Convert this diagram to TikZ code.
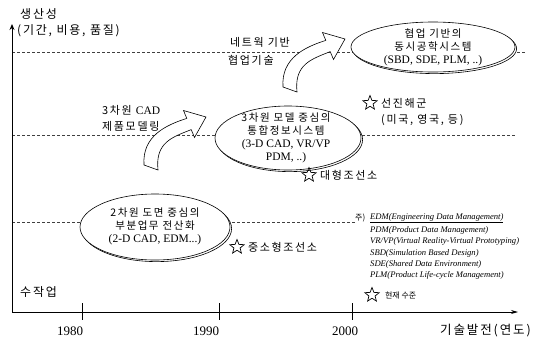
\documentclass[tikz,border=0pt]{standalone}
\usepackage{fontspec}
\setmainfont{Liberation Serif}
\newfontfamily\kr{Noto Sans CJK KR}[LetterSpace=15]
\newfontfamily\krs{Noto Sans CJK KR}
\usetikzlibrary{arrows.meta, shapes.geometric}

\tikzset{
  guide/.style={densely dashed, line width=0.4pt, black!75},
  rim/.style={draw, fill=white, line width=0.6pt},
  steptext/.style={inner sep=0pt, align=center, font=\kr\fontsize{10.5}{13}\selectfont},
  starmark/.style={star, star points=5, star point ratio=2.3, draw, minimum size=15pt,
    inner sep=0pt, line width=0.7pt},
  lbl/.style={anchor=west, inner sep=0pt, font=\kr\fontsize{11}{14}\selectfont},
  note/.style={anchor=west, inner sep=0pt, font=\itshape\fontsize{8.6}{10}\selectfont},
  bendarrow/.pic={
    \draw[fill=white, line width=0.6pt] (7,2) .. controls (4,-26) and (22,-31) .. (40.2,-38.4)
      -- (43.5,-30.5) -- (55,-51) -- (32.5,-57.5) -- (35.8,-49.6)
      .. controls (15,-43) and (-9,-32) .. (-7,-3) -- cycle;
  }
}
\newcommand{\lat}[1]{{\rmfamily\fontsize{11.5}{13}\selectfont #1}}

\begin{document}
\begin{tikzpicture}[x=1pt, y=-1pt]
\useasboundingbox (0,0) rectangle (538,341);
% guide lines
\draw[guide] (12,52) -- (525,52);
\draw[guide] (12,135) -- (515,135);
\draw[guide] (12,222) -- (355,222);
% axes
\coordinate (o) at (12,312);
\draw[-{Stealth[length=6pt, width=5pt]}, line width=0.9pt] (o) -- (12,24);
\draw[-{Stealth[length=7pt, width=4pt]}, line width=0.8pt] (o) -- (518,312);
\foreach \x/\yr/\lx in {82/1980/70, 219/1990/206, 352/2000/345} {
  \draw[line width=0.6pt] (\x,303) -- (\x,320);
  \node[font=\fontsize{13}{15}\selectfont] (yr\yr) at (\lx,331) {\yr};
}
\node[lbl, font=\kr\fontsize{12}{15}\selectfont] (prod) at (20,14) {생산성};
\node[lbl, font=\kr\fontsize{12}{15}\selectfont] (prodsub) at (17,31) {(기간, 비용, 품질)};
\node[lbl, font=\kr\fontsize{12.5}{15}\selectfont] (techaxis) at (440,331) {기술발전(연도)};
\node[lbl, font=\kr\fontsize{12}{15}\selectfont] (manual) at (20,292) {수작업};

% steps (ellipse with offset rim at lower right)
\draw[rim] (156.6,228.6) ellipse (75 and 33);
\draw[rim] (155,227) ellipse (75 and 33);
\node[steptext] (lvl2d) at (155,226)
  {2차원 도면 중심의\\부분업무 전산화\\\lat{(2-D CAD, EDM...)}};
\draw[rim] (289.6,139.6) ellipse (73 and 32);
\draw[rim] (288,138) ellipse (73 and 32);
\node[steptext] (lvl3d) at (286,138)
  {3차원 모델 중심의\\통합정보시스템\\\lat{(3-D CAD, VR/VP}\\\lat{PDM, ..)}};
\draw[rim] (434.6,48.6) ellipse (82 and 25);
\draw[rim] (433,47) ellipse (82 and 25);
\node[steptext] (lvlce) at (433,47)
  {협업 기반의\\동시공학시스템\\\lat{(SBD, SDE, PLM, ..)}};

% transitions
\pic at (151,168) {bendarrow};
\pic at (290,90) {bendarrow};
\node[lbl] (cad3d) at (102,110) {3차원 \lat{CAD}};
\node[lbl] (cadmod) at (102,126) {제품모델링};
\node[lbl] (netw) at (230,42) {네트웍 기반};
\node[lbl] (netcol) at (228,60) {협업기술};

% positions
\node[starmark] (sadv) at (370,103) {};
\node[lbl] (adv) at ([xshift=6pt]sadv.east) {선진해군};
\node[lbl] (advsub) at (381,120) {(미국, 영국, 등)};
\node[starmark] (sbig) at (309,175) {};
\node[lbl] (big) at ([xshift=6pt]sbig.east) {대형조선소};
\node[starmark] (ssmall) at (237,247) {};
\node[lbl] (small) at ([xshift=6pt]ssmall.east) {중소형조선소};
\node[starmark] (snow) at (372,295) {};
\node[lbl, font=\krs\fontsize{8}{10}\selectfont] (now) at ([xshift=8pt]snow.east) {현재 수준};

% notes
\node[anchor=west, inner sep=0pt, font=\krs\fontsize{8}{10}\selectfont] (nt) at (355,218) {주)};
\node[note] (n1) at (370,218) {\underline{EDM(Engineering Data Management)}};
\node[note] (n2) at (370,230) {PDM(Product Data Management)};
\node[note] (n3) at (370,241.5) {VR/VP(Virtual Reality-Virtual Prototyping)};
\node[note] (n4) at (370,253) {SBD(Simulation Based Design)};
\node[note] (n5) at (370,264) {SDE(Shared Data Environment)};
\node[note] (n6) at (370,275) {PLM(Product Life-cycle Management)};
\end{tikzpicture}
\end{document}
